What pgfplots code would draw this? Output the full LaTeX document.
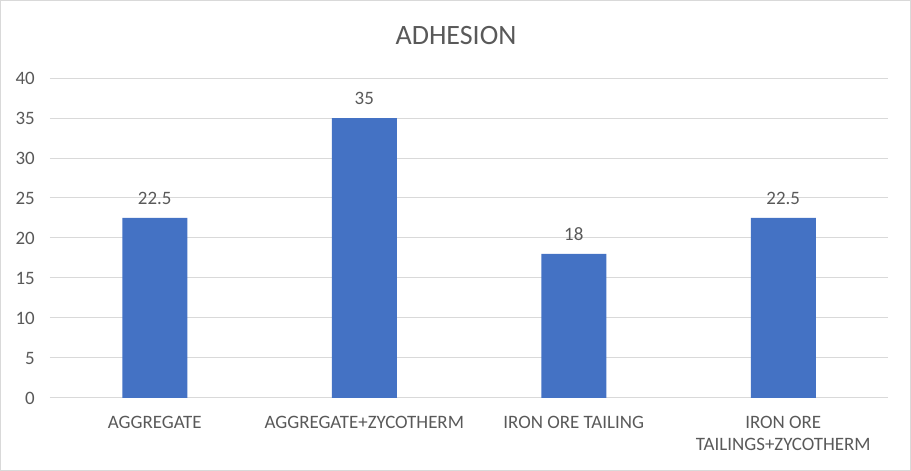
\documentclass[border=0pt]{standalone}
\usepackage{pgfplots}
\pgfplotsset{compat=1.18}
\usepackage{fontspec}
\setmainfont{Carlito}
\definecolor{barblue}{HTML}{4472C4}
\definecolor{gridgray}{HTML}{D9D9D9}
\definecolor{txtgray}{HTML}{595959}
\begin{document}
\begin{tikzpicture}
\draw[gridgray, line width=0.75pt] (0.375pt,0.375pt) rectangle (682.875pt,352.875pt);
\node[anchor=base, font=\fontsize{21}{25}\selectfont, text=txtgray] at (342pt,319.5pt) {ADHESION};
\begin{axis}[
  at={(37.5pt,54.75pt)}, anchor=south west,
  scale only axis, width=628.5pt, height=240pt,
  ymin=0, ymax=40, ytick={0,5,...,40},
  xmin=-0.5, xmax=3.5, xtick={0,1,2,3},
  xticklabels={AGGREGATE, AGGREGATE+ZYCOTHERM, IRON ORE TAILING, {IRON ORE\\TAILINGS+ZYCOTHERM}},
  /pgf/number format/assume math mode=true,
  axis line style={draw=none},
  major tick length=0pt,
  ymajorgrids, grid style={gridgray, line width=0.75pt},
  tick label style={text=txtgray, font=\fontsize{14.2}{16.8}\selectfont},
  yticklabel style={anchor=east, inner sep=0pt, xshift=-11.25pt},
  xticklabel style={anchor=north, inner sep=0pt, yshift=-13.2pt, align=center},
  ybar, bar width=48.75pt,
  nodes near coords,
  every node near coord/.append style={anchor=base, inner sep=0pt, yshift=9.75pt, text=txtgray, font=\fontsize{14.2}{16.8}\selectfont},
  clip=false,
]
\addplot[fill=barblue, draw=none] coordinates {(0,22.5) (1,35) (2,18) (3,22.5)};
\end{axis}
\end{tikzpicture}
\end{document}
